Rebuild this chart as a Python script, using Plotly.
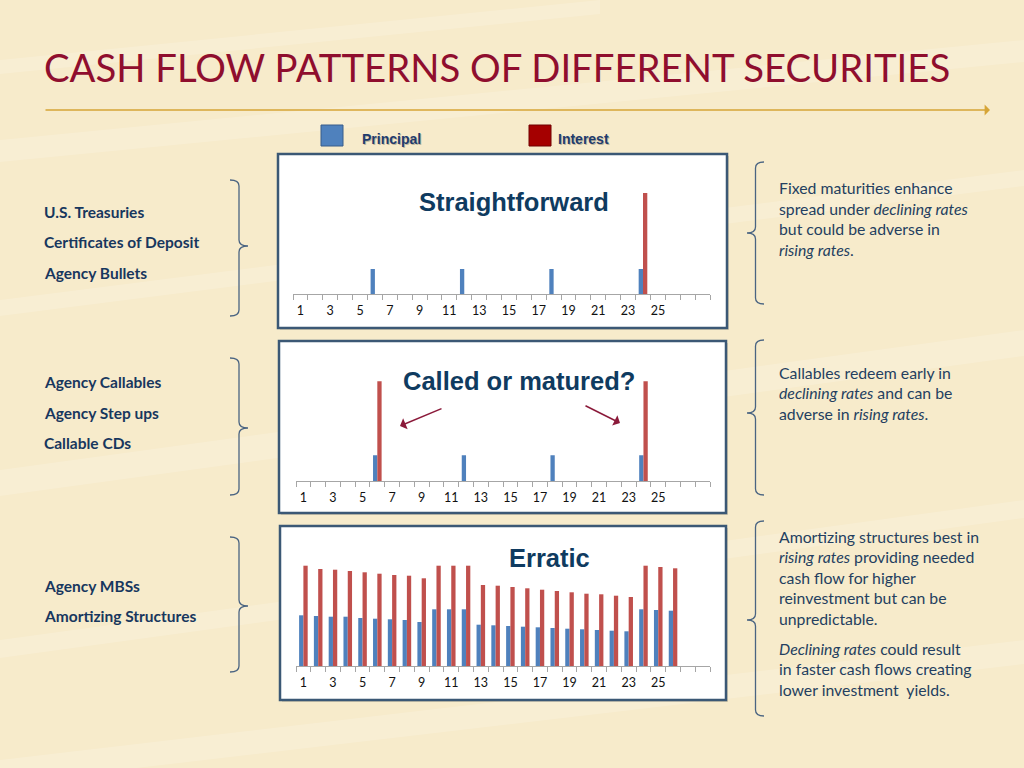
import plotly.graph_objects as go

# ---------------- data ----------------
periods = list(range(1, 29))                     # 28 slots on each axis
tick_vals = list(range(1, 26, 2))                # labelled periods
tick_text = [str(v) for v in tick_vals]

# Straightforward (bullets): periods -> value
principal_straight = {6: 25, 12: 25, 18: 25, 24: 25}
interest_straight = {24: 101}

# Called or matured (callables)
principal_called = {6: 26, 12: 26, 18: 26, 24: 26}
interest_called = {6: 100, 24: 100}

# Erratic (MBS / amortizing), periods 1..26
erratic_periods = list(range(1, 27))
principal_erratic = [50.7, 50, 49.3, 49.3, 48, 47.3, 46.7, 46, 44, 56.7, 56.7, 56.7, 41.3,
                     40.7, 40, 39.3, 38.7, 38, 37.3, 36.7, 36, 35.3, 34.7, 56.7, 56, 55.3]
interest_erratic = [100.3, 97, 96.3, 95, 93.7, 92.3, 91, 90.3, 87.7, 100.3, 100.3, 100.3, 81,
                    80.3, 79, 77.7, 76.3, 75, 73.7, 72.3, 71.7, 70.3, 69, 100.3, 99, 97.7]

chart_titles = ["Straightforward", "Called or matured?", "Erratic"]
legend_names = ["Principal", "Interest"]

left_groups = [
    ["U.S. Treasuries", "Certificates of Deposit", "Agency Bullets"],
    ["Agency Callables", "Agency Step ups", "Callable CDs"],
    ["Agency MBSs", "Amortizing Structures"],
]
right_groups = [
    ["Fixed maturities enhance", "spread under <i>declining rates</i>",
     "but could be adverse in", "<i>rising rates</i>."],
    ["Callables redeem early in", "<i>declining rates</i> and can be",
     "adverse in <i>rising rates</i>."],
    ["Amortizing structures best in", "<i>rising rates</i> providing needed",
     "cash flow for higher", "reinvestment but can be", "unpredictable."],
    ["<i>Declining rates</i> could result", "in faster cash flows creating",
     "lower investment  yields."],
]

# ---------------- styling ----------------
W, H = 1024, 768
BLUE = "#4F81BD"
RED = "#C0504D"
NAVY = "#17375E"
TEXT = "#243F60"
BRACE = "#4A6482"
BOX = "#3B5875"


def px(x):
    return x / W


def py(y):
    return 1 - y / H


def expand(d):
    return [d.get(p) for p in periods]


fig = go.Figure()

series = [
    (expand(principal_straight), expand(interest_straight), periods),
    (expand(principal_called), expand(interest_called), periods),
    (principal_erratic, interest_erratic, erratic_periods),
]

# plot area pixel boxes (x0, x1, ytop, ybottom)
plot_boxes = [(293, 710, 170, 294), (296, 710, 357.3, 481.3), (296, 710, 542, 666)]
frame_boxes = [(278, 154, 727, 328), (279, 341, 726, 513), (280, 526, 726, 700)]

for i, (pr, it, xs) in enumerate(series):
    n = "" if i == 0 else str(i + 1)
    fig.add_trace(go.Bar(x=xs, y=pr, name=legend_names[0], marker_color=BLUE,
                         marker_line_width=0, xaxis="x" + n, yaxis="y" + n,
                         offsetgroup="p", showlegend=False))
    fig.add_trace(go.Bar(x=xs, y=it, name=legend_names[1], marker_color=RED,
                         marker_line_width=0, xaxis="x" + n, yaxis="y" + n,
                         offsetgroup="i", showlegend=False))

layout = dict(
    width=W, height=H, autosize=False,
    margin=dict(l=0, r=0, t=0, b=0),
    paper_bgcolor="#F7EBCB", plot_bgcolor="rgba(0,0,0,0)",
    barmode="group", bargap=0.42, bargroupgap=0.0,
    showlegend=False,
)
for i, (x0, x1, yt, yb) in enumerate(plot_boxes):
    n = "" if i == 0 else str(i + 1)
    layout["xaxis" + n] = dict(
        domain=[px(x0), px(x1)], range=[0.5, 28.5], anchor="y" + n,
        tickmode="array", tickvals=tick_vals, ticktext=tick_text,
        ticks="outside", ticklen=5, tickcolor="rgba(0,0,0,0)",
        minor=dict(tickmode="linear", tick0=0.5, dtick=1, ticks="outside",
                   ticklen=5, tickcolor="#A6A6A6", tickwidth=1),
        showline=True, linecolor="#A6A6A6", linewidth=1,
        showgrid=False, zeroline=False, fixedrange=True,
        tickfont=dict(family="Lato, Carlito, sans-serif", size=12.5, color="#111111"),
    )
    layout["yaxis" + n] = dict(
        domain=[py(yb), py(yt)], range=[0, yb - yt], anchor="x" + n,
        visible=False, showgrid=False, zeroline=False, fixedrange=True,
    )
fig.update_layout(**layout)

shapes = []
# subtle background streaks
streaks = [(0, 140, 1024, 40, 22), (0, 300, 1024, 170, 16), (0, 470, 1024, 330, 26),
           (0, 640, 1024, 500, 18), (0, 760, 1024, 640, 24), (0, 60, 600, 0, 14)]
for (xa, ya, xb, yb2, w) in streaks:
    shapes.append(dict(type="path", xref="paper", yref="paper", layer="below",
                       path=f"M {px(xa)},{py(ya)} L {px(xb)},{py(yb2)} L {px(xb)},{py(yb2 + w)} L {px(xa)},{py(ya + w)} Z",
                       fillcolor="rgba(255,255,255,0.16)", line=dict(width=0)))

# chart frames
for (x0, y0, x1, y1) in frame_boxes:
    shapes.append(dict(type="rect", xref="paper", yref="paper", layer="below",
                       x0=px(x0 + 2), y0=py(y1 + 2), x1=px(x1 + 2), y1=py(y0 + 2),
                       fillcolor="rgba(90,80,60,0.18)", line=dict(width=0)))
    shapes.append(dict(type="rect", xref="paper", yref="paper", layer="below",
                       x0=px(x0), y0=py(y1), x1=px(x1), y1=py(y0),
                       fillcolor="white", line=dict(color=BOX, width=2.5)))

# legend squares
shapes.append(dict(type="rect", xref="paper", yref="paper", x0=px(321), x1=px(343),
                   y0=py(146), y1=py(125), fillcolor=BLUE, line=dict(color="#385D8A", width=1)))
shapes.append(dict(type="rect", xref="paper", yref="paper", x0=px(529), x1=px(551),
                   y0=py(146), y1=py(125), fillcolor="#A50000", line=dict(color="#700000", width=1)))


def brace(xe, y0, y1, ym, tip):
    """Curly brace: xe = x of ends, tip = x of the point; spine midway."""
    xs = (xe + tip) / 2
    r = 6
    pts = [f"M {px(xe)},{py(y0)}",
           f"Q {px(xs)},{py(y0)} {px(xs)},{py(y0 + r)}",
           f"L {px(xs)},{py(ym - r)}",
           f"Q {px(xs)},{py(ym)} {px(tip)},{py(ym)}",
           f"Q {px(xs)},{py(ym)} {px(xs)},{py(ym + r)}",
           f"L {px(xs)},{py(y1 - r)}",
           f"Q {px(xs)},{py(y1)} {px(xe)},{py(y1)}"]
    return dict(type="path", xref="paper", yref="paper", path=" ".join(pts),
                line=dict(color=BRACE, width=1.3))


# left-column closing braces
for (y0, y1, ym) in [(180, 316, 246), (358, 495, 428), (537, 672, 606)]:
    shapes.append(brace(230, y0, y1, ym, 248))
# right-column opening braces
for (y0, y1, ym) in [(162, 304, 233), (340, 495, 413), (521, 716, 620)]:
    shapes.append(brace(764, y0, y1, ym, 747))

fig.update_layout(shapes=shapes)

ann = []
# title
ann.append(dict(x=px(42), y=py(67), xref="paper", yref="paper", xanchor="left", yanchor="middle",
                text="CASH FLOW PATTERNS OF DIFFERENT SECURITIES", showarrow=False,
                font=dict(family="Lato, sans-serif", size=38.3, color="#8F0E2E")))
# gold rule with arrow
ann.append(dict(x=px(990), y=py(110), xref="paper", yref="paper", ax=-946, ay=0,
                text="", showarrow=True, arrowhead=1, arrowsize=1.2, arrowwidth=1.5,
                arrowcolor="#D6A537"))

# legend labels (with soft shadow)
for label, x in [(legend_names[0], 360), (legend_names[1], 556)]:
    ann.append(dict(x=px(x + 1), y=py(139 + 1), xref="paper", yref="paper", xanchor="left",
                    yanchor="middle", text=f"<b>{label}</b>", showarrow=False,
                    font=dict(family="Liberation Sans Narrow, Arial Narrow, Liberation Sans",
                              size=14, color="rgba(120,110,90,0.45)")))
    ann.append(dict(x=px(x), y=py(139), xref="paper", yref="paper", xanchor="left",
                    yanchor="middle", text=f"<b>{label}</b>", showarrow=False,
                    font=dict(family="Liberation Sans Narrow, Arial Narrow, Liberation Sans",
                              size=14, color="#1F3C6E")))

# chart titles
for t, (x, y) in zip(chart_titles, [(514, 202), (519, 381), (549, 558)]):
    ann.append(dict(x=px(x), y=py(y), xref="paper", yref="paper", xanchor="center",
                    yanchor="middle", text=f"<b>{t}</b>", showarrow=False,
                    font=dict(family="Liberation Sans, Arial, sans-serif", size=25.5, color="#0F3B60")))

# arrows in callable chart
for (hx, hy, axp, ayp) in [(400, 426, 43, -18), (620, 423, -36, -18)]:
    ann.append(dict(x=px(hx), y=py(hy), xref="paper", yref="paper", ax=axp, ay=ayp,
                    text="", showarrow=True, arrowhead=1, arrowsize=1.3, arrowwidth=1.5,
                    arrowcolor="#8B1A3A"))

# left column text
left_y = [[212, 242, 273], [382, 413, 443], [586, 616]]
for lines, ys in zip(left_groups, left_y):
    for line, y in zip(lines, ys):
        ann.append(dict(x=px(42), y=py(y), xref="paper", yref="paper", xanchor="left",
                        yanchor="middle", text=f"<b>{line}</b>", showarrow=False,
                        font=dict(family="Lato, sans-serif", size=15.5, color=NAVY)))

# right column text
right_y = [[188, 208.5, 229, 249.5], [372, 392.5, 413], [536, 556.5, 577, 597.5, 618],
           [648, 668.5, 689]]
for lines, ys in zip(right_groups, right_y):
    for line, y in zip(lines, ys):
        ann.append(dict(x=px(777), y=py(y), xref="paper", yref="paper", xanchor="left",
                        yanchor="middle", text=line, showarrow=False,
                        font=dict(family="Lato, sans-serif", size=15.8, color=TEXT)))

fig.update_layout(annotations=ann)
fig.write_html("out.html", config={"displayModeBar": False},
               post_script="document.body.style.margin='0';document.body.style.overflow='hidden';")
